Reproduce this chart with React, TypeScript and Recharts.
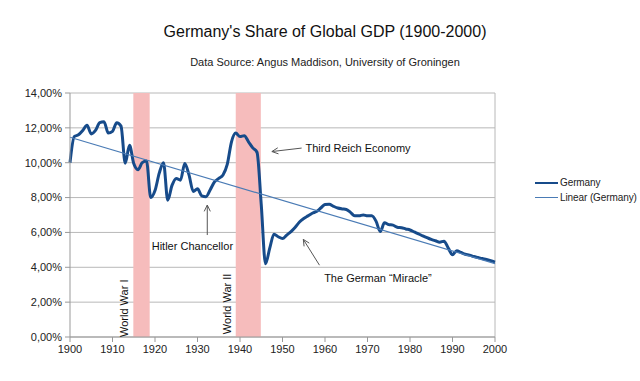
import type { ReactElement } from "react";
import {
  CartesianGrid,
  Line,
  LineChart,
  ReferenceArea,
  ReferenceDot,
  ReferenceLine,
  XAxis,
  YAxis,
} from "recharts";

const firstYear = 1900;

// Germany's share of world GDP, %, one value per year 1900..2000
const germanyShare = [
  10.0, 11.5, 11.6, 11.85, 12.15, 11.65, 11.85, 12.3, 12.35, 11.7,
  11.8, 12.3, 12.1, 9.97, 11.0, 9.95, 9.6, 10.0, 10.1, 8.0,
  8.4, 9.4, 10.0, 7.85, 8.7, 9.1, 9.0, 9.95, 9.3, 8.35,
  8.5, 8.1, 8.05, 8.45, 8.9, 9.1, 9.3, 9.9, 11.2, 11.7,
  11.5, 11.55, 11.2, 10.85, 10.6, 7.6, 4.2, 5.1, 5.9, 5.75,
  5.65, 5.85, 6.05, 6.3, 6.6, 6.8, 6.95, 7.1, 7.2, 7.4,
  7.6, 7.62, 7.5, 7.4, 7.35, 7.32, 7.15, 6.95, 6.95, 7.0,
  6.95, 6.95, 6.65, 6.05, 6.55, 6.45, 6.42, 6.3, 6.27, 6.2,
  6.14, 6.03, 5.92, 5.8, 5.7, 5.6, 5.52, 5.44, 5.5, 5.1,
  4.72, 4.95, 4.85, 4.75, 4.7, 4.62, 4.56, 4.5, 4.45, 4.38,
  4.3,
];

const linearYears = [1900, 2000];
const linearValues = [11.46, 4.21];

const xTicks = [1900, 1910, 1920, 1930, 1940, 1950, 1960, 1970, 1980, 1990, 2000];
const yTicks = [0, 2, 4, 6, 8, 10, 12, 14];

const warNames = ["World War I", "World War II"];
const warStart = [1914.9, 1939];
const warEnd = [1918.75, 1944.9];
const warLabelYear = [1912.7, 1936.9];
const warLabelValue = [1.65, 1.9];

const noteTexts = ["Third Reich Economy", "Hitler Chancellor", "The German \u201cMiracle\u201d"];
const noteYears = [1955.4, 1928.8, 1959.8];
const noteValues = [10.87, 5.25, 3.38];
const noteAnchors = ["start", "middle", "start"];

// arrows: tail -> head
const arrowFromYear = [1954.5, 1932.3, 1958.7];
const arrowFromValue = [10.84, 5.85, 4.12];
const arrowToYear = [1947.5, 1932.3, 1954.9];
const arrowToValue = [10.64, 7.57, 5.6];

const legendNames = ["Germany", "Linear (Germany)"];

const data = germanyShare.map((v, i) => ({ year: firstYear + i, germany: v }));
const trendData = linearYears.map((y, i) => ({ year: y, linear: linearValues[i] }));

const font = "'Liberation Sans', Arial, sans-serif";
const germanyColor = "#174b8a";
const linearColor = "#4a7bb5";
const legendColors = [germanyColor, linearColor];
const legendWidths = [2.5, 1.5];

function Arrow(p: any): ReactElement {
  const { x1, y1, x2, y2 } = p;
  const a = Math.atan2(y2 - y1, x2 - x1);
  const len = 7;
  const spread = 0.45;
  return (
    <g stroke="#555" strokeWidth={1} fill="none">
      <line x1={x1} y1={y1} x2={x2} y2={y2} />
      <line x1={x2} y1={y2} x2={x2 - len * Math.cos(a - spread)} y2={y2 - len * Math.sin(a - spread)} />
      <line x1={x2} y1={y2} x2={x2 - len * Math.cos(a + spread)} y2={y2 - len * Math.sin(a + spread)} />
    </g>
  );
}

export default function App(): ReactElement {
  return (
    <div style={{ position: "absolute", left: 0, top: 0, width: 640, height: 381, background: "#fff", fontFamily: font }}>
      <div style={{ position: "absolute", top: 22, left: 0, width: 650, textAlign: "center", fontSize: 16, lineHeight: "20px", color: "#111" }}>
        Germany's Share of Global GDP (1900-2000)
      </div>
      <div style={{ position: "absolute", top: 55, left: 0, width: 650, textAlign: "center", fontSize: 11, lineHeight: "14px", color: "#222" }}>
        Data Source: Angus Maddison, University of Groningen
      </div>
      <div style={{ position: "absolute", left: 535, top: 175, fontSize: 10, letterSpacing: -0.1, color: "#222", whiteSpace: "nowrap" }}>
        {legendNames.map((n, i) => (
          <div key={n} style={{ display: "flex", alignItems: "center", height: 15 }}>
            <span style={{ display: "inline-block", width: 23, height: 0, borderTop: `${legendWidths[i]}px solid ${legendColors[i]}`, marginRight: 2 }} />
            {n}
          </div>
        ))}
      </div>
      <LineChart width={640} height={381} data={data} margin={{ top: 93, right: 145, bottom: 14, left: 0 }}>
        <CartesianGrid vertical={false} stroke="#b8b8b8" />
        <XAxis
          dataKey="year"
          type="number"
          domain={[1900, 2000]}
          ticks={xTicks}
          height={30}
          tickSize={5}
          tickMargin={3}
          stroke="#999"
          tick={{ fill: "#222", fontSize: 11, fontFamily: font }}
        />
        <YAxis
          domain={[0, 14]}
          ticks={yTicks}
          width={70}
          tickSize={5}
          tickMargin={3}
          stroke="#999"
          tick={{ fill: "#222", fontSize: 11, fontFamily: font }}
          tickFormatter={(v: number) => v.toFixed(2).replace(".", ",") + "%"}
        />
        <ReferenceLine x={2000} stroke="#b8b8b8" />
        {warNames.map((w, i) => (
          <ReferenceArea key={w} x1={warStart[i]} x2={warEnd[i]} y1={0} y2={14} fill="#f6bcbc" fillOpacity={1} stroke="none" />
        ))}
        <Line
          dataKey="germany"
          name="Germany"
          type="monotone"
          stroke={germanyColor}
          strokeWidth={3}
          dot={false}
          isAnimationActive={false}
        />
        <Line
          data={trendData}
          dataKey="linear"
          name="Linear (Germany)"
          type="linear"
          stroke={linearColor}
          strokeWidth={1.2}
          dot={false}
          isAnimationActive={false}
        />
        {warNames.map((w, i) => (
          <ReferenceDot
            key={"lbl" + w}
            x={warLabelYear[i]}
            y={warLabelValue[i]}
            r={1}
            shape={(p: any) => (
              <text
                x={p.cx}
                y={p.cy}
                transform={`rotate(-90 ${p.cx} ${p.cy})`}
                textAnchor="middle"
                dominantBaseline="central"
                fontSize={11}
                fontFamily={font}
                fill="#111"
              >
                {w}
              </text>
            )}
          />
        ))}
        {noteTexts.map((t, i) => (
          <ReferenceDot
            key={t}
            x={noteYears[i]}
            y={noteValues[i]}
            r={1}
            shape={(p: any) => (
              <text
                x={p.cx}
                y={p.cy}
                textAnchor={noteAnchors[i] as any}
                dominantBaseline="central"
                fontSize={11}
                fontFamily={font}
                fill="#111"
              >
                {t}
              </text>
            )}
          />
        ))}
        {arrowFromYear.map((_, i) => (
          <ReferenceLine
            key={"arrow" + i}
            segment={[
              { x: arrowFromYear[i], y: arrowFromValue[i] },
              { x: arrowToYear[i], y: arrowToValue[i] },
            ]}
            shape={Arrow}
          />
        ))}
      </LineChart>
    </div>
  );
}
